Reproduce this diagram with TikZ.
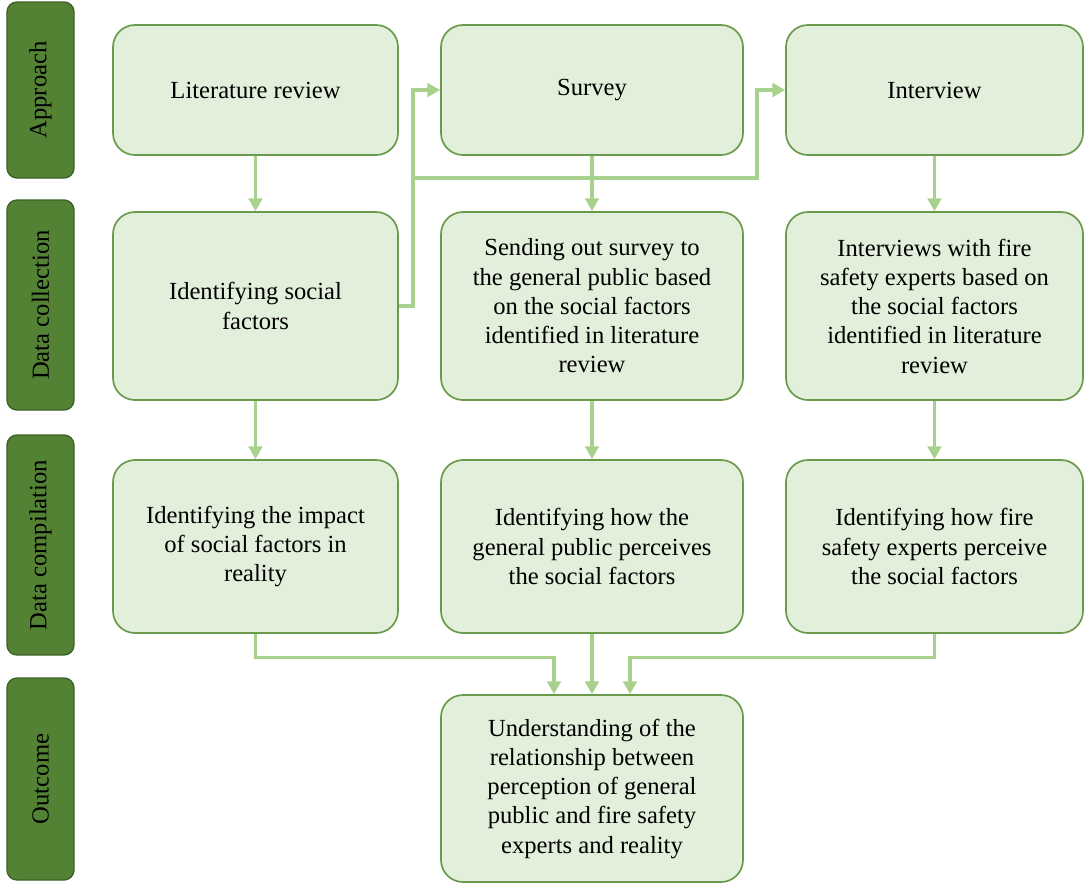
\documentclass[tikz,border=0pt]{standalone}
\usepackage{fontspec}
\setmainfont{Liberation Serif}
\usepackage{tikz}
\usetikzlibrary{arrows.meta,calc}
\definecolor{boxfill}{HTML}{E2EFDA}
\definecolor{boxline}{HTML}{6A9A4B}
\definecolor{stagefill}{HTML}{548235}
\definecolor{stageline}{HTML}{3E6328}
\definecolor{arrgreen}{HTML}{A9D18E}

\begin{document}
\begin{tikzpicture}[
  font=\fontsize{17.5}{20.8}\selectfont,
  box/.style={draw=boxline,fill=boxfill,line width=1.2pt,rounded corners=0.55cm,align=center,inner sep=2pt},
  stage/.style={draw=stageline,fill=stagefill,line width=1pt,rounded corners=0.25cm,rotate=90,minimum height=1.675cm,inner sep=2pt},
  arr/.style={-{Triangle[length=3.2mm,width=3.4mm]},draw=arrgreen,line width=2.2pt}
]
\useasboundingbox (0,0) rectangle (27.125,-22.125);
% stage labels on the left
\node[stage,minimum width=4.4cm] (sapp) at (1.0125,-2.25) {Approach};
\node[stage,minimum width=5.25cm] (scol) at (1.0125,-7.625) {Data collection};
\node[stage,minimum width=5.5cm] (scmp) at (1.0125,-13.625) {Data compilation};
\node[stage,minimum width=5.05cm] (sout) at (1.0125,-19.475) {Outcome};
% approach
\node[box,minimum width=7.125cm,minimum height=3.25cm] (lit) at (6.3875,-2.25) {Literature review};
\node[box,minimum width=7.55cm,minimum height=3.25cm] (survey) at (14.8,-2.25) {Survey};
\node[box,minimum width=7.425cm,minimum height=3.25cm] (interview) at (23.3625,-2.25) {Interview};
% data collection
\node[box,minimum width=7.125cm,minimum height=4.7cm] (litcol) at (6.3875,-7.65) {Identifying social\\factors};
\node[box,minimum width=7.55cm,minimum height=4.7cm] (surcol) at (14.8,-7.65) {Sending out survey to\\the general public based\\on the social factors\\identified in literature\\review};
\node[box,minimum width=7.425cm,minimum height=4.7cm] (intcol) at (23.3625,-7.65) {Interviews with fire\\safety experts based on\\the social factors\\identified in literature\\review};
% data compilation
\node[box,minimum width=7.125cm,minimum height=4.325cm] (litcmp) at (6.3875,-13.6625) {Identifying the impact\\of social factors in\\reality};
\node[box,minimum width=7.55cm,minimum height=4.325cm] (surcmp) at (14.8,-13.6625) {Identifying how the\\general public perceives\\the social factors};
\node[box,minimum width=7.425cm,minimum height=4.325cm] (intcmp) at (23.3625,-13.6625) {Identifying how fire\\safety experts perceive\\the social factors};
% outcome
\node[box,minimum width=7.55cm,minimum height=4.675cm] (result) at (14.8,-19.7125) {Understanding of the\\relationship between\\perception of general\\public and fire safety\\experts and reality};
% branch points
\coordinate (junc) at (10.325,-4.45);
\coordinate (bend) at (18.925,-4.45);
\draw[arr] (lit.south) -- (litcol.north);
\draw[arr] (survey.south) -- (surcol.north);
\draw[arr] (interview.south) -- (intcol.north);
\draw[arr] (litcol.east) -| (junc) |- (survey.west);
\draw[arr,line join=miter] (junc) -- (bend) |- (interview.west);
\draw[arr] (litcol.south) -- (litcmp.north);
\draw[arr] (surcol.south) -- (surcmp.north);
\draw[arr] (intcol.south) -- (intcmp.north);
\draw[arr] (litcmp.south) -- ++(0,-0.6) -| ([xshift=-0.95cm]result.north);
\draw[arr] (surcmp.south) -- (result.north);
\draw[arr] (intcmp.south) -- ++(0,-0.6) -| ([xshift=0.95cm]result.north);
\end{tikzpicture}
\end{document}
